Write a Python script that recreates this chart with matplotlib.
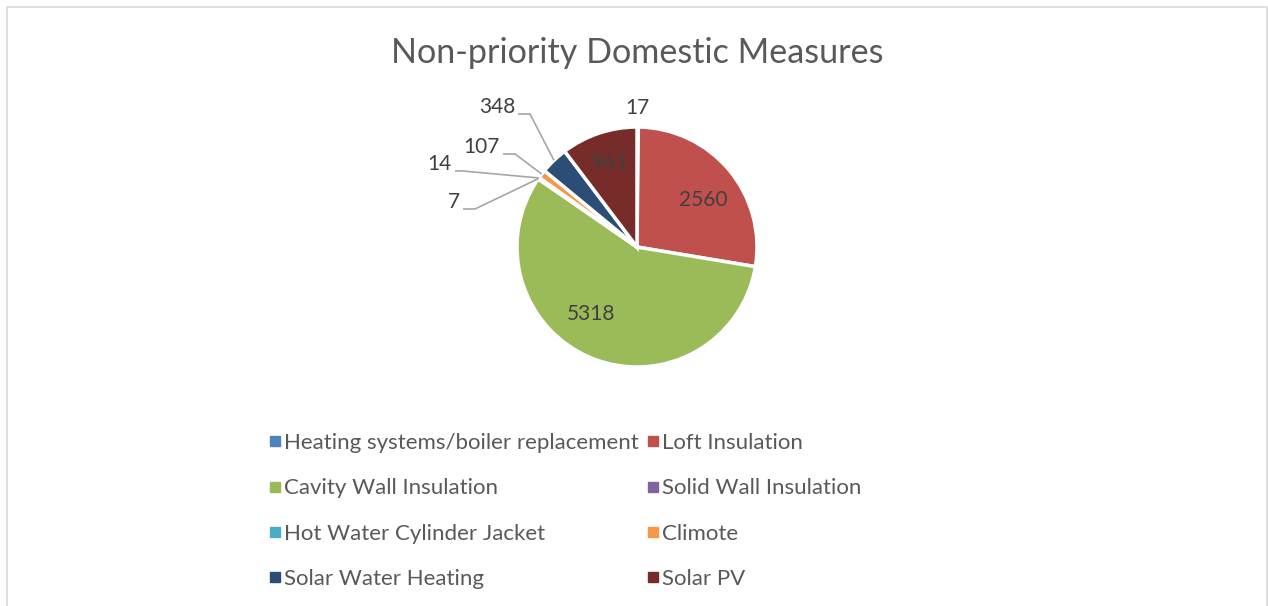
import matplotlib
matplotlib.use('Agg')
import matplotlib.pyplot as plt
from matplotlib.lines import Line2D
from matplotlib.patches import Rectangle
import numpy as np

plt.rcParams['font.family'] = ['Lato', 'DejaVu Sans']

measures = ['Heating systems/boiler replacement', 'Loft Insulation',
            'Cavity Wall Insulation', 'Solid Wall Insulation',
            'Hot Water Cylinder Jacket', 'Climote',
            'Solar Water Heating', 'Solar PV']
counts = [17, 2560, 5318, 7, 14, 107, 348, 961]
colors = ['#4F81BD', '#C0504D', '#9BBB59', '#8064A2',
          '#4BACC6', '#F79646', '#2C4D75', '#772C2A']

W, H = 1268, 606
fig = plt.figure(figsize=(W / 100, H / 100), dpi=100)
ax = fig.add_axes([0, 0, 1, 1])

def py(y):
    # pixel row -> data y
    return H - y

cx, cy, r = 637, 247, 120
txt = '#404040'

wedges, _ = ax.pie(counts, colors=colors, startangle=90, counterclock=False,
                   center=(cx, py(cy)), radius=r,
                   wedgeprops=dict(edgecolor='white', linewidth=2.5))
ax.set_xlim(0, W)
ax.set_ylim(0, H)
ax.set_aspect('equal')
ax.axis('off')

# labels inside the big slices, pixel offsets from the centre
inside = {1: (66, -47), 2: (-46, 67), 7: (-27, -84)}
# outside labels: (text right x, line y) in pixels
outside = {3: (460, 209), 4: (452, 171), 5: (500, 154), 6: (515, 114)}
knee = {3: 475, 4: 463, 5: 515, 6: 530}

for i, w in enumerate(wedges):
    mid = np.deg2rad((w.theta1 + w.theta2) / 2)
    ex = cx + r * np.cos(mid)
    ey = cy - r * np.sin(mid)
    if i in inside:
        dx, dy = inside[i]
        ax.text(cx + dx, py(cy + dy), str(counts[i]),
                ha='center', va='center', fontsize=15, color=txt)
    elif i == 0:
        ax.text(ex, py(ey - 19), str(counts[i]), ha='center', va='center',
                fontsize=15, color=txt)
    else:
        tx, ly = outside[i]
        ax.plot([tx + 3, knee[i], ex], [py(ly), py(ly), py(ey)],
                color='#A6A6A6', lw=1.2, solid_capstyle='butt')
        ax.text(tx, py(ly - 1), str(counts[i]), ha='right', va='baseline',
                fontsize=15, color=txt)

ax.text(cx, py(53), 'Non-priority Domestic Measures', ha='center', va='center',
        fontsize=24.6, color='#595959')

order = [0, 2, 4, 6, 1, 3, 5, 7]
handles = [Line2D([], [], marker='s', ls='', markersize=7, color=colors[i]) for i in order]
labels = [measures[i] for i in order]
fig.legend(handles, labels, ncol=2, loc='upper left',
           bbox_to_anchor=(262 / W, 1 - 433 / H), frameon=False,
           fontsize=16, labelcolor='#595959', handletextpad=-0.2, handlelength=1.2,
           columnspacing=0.02, labelspacing=1.14, borderaxespad=0, borderpad=0)

fig.patches.append(Rectangle((7 / W, -0.1), (1267 - 7) / W, 1.1 - 7 / H,
                             transform=fig.transFigure, fill=False,
                             edgecolor='#D9D9D9', lw=1.2))

fig.savefig('out.png', dpi=100, facecolor='white')
